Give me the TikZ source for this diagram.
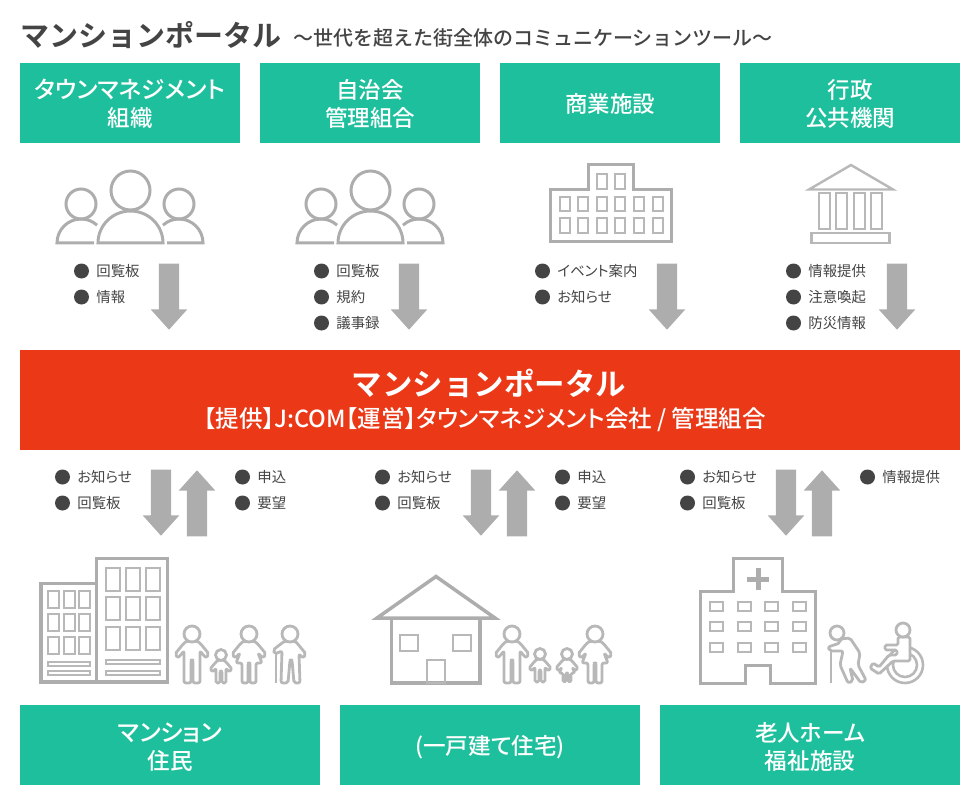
\documentclass[tikz,border=0pt]{standalone}
\usepackage{fontspec}
\setmainfont{Noto Sans CJK JP}[RawFeature=+palt]
\newfontfamily\medfont{Noto Sans CJK JP Medium}[RawFeature=+palt]
\newfontfamily\subfont{Noto Sans CJK JP Medium}
\newfontfamily\titlefont{Noto Sans CJK JP Bold}
\usetikzlibrary{shapes.arrows}

\definecolor{cgreen}{HTML}{1EBF9C}
\definecolor{cred}{HTML}{EB3817}
\definecolor{cdark}{HTML}{444444}
\definecolor{cicon}{HTML}{ADADAD}
\definecolor{cthin}{HTML}{B8B8B8}

\tikzset{
  greenbox/.style={fill=cgreen,minimum height=80pt,inner sep=0pt},
  boxtext/.style={text=white,inner sep=0pt,align=center,yshift=-.5pt,font=\fontsize{22.5}{28}\selectfont\medfont},
  garrow/.style={single arrow,fill=cicon,anchor=tip,minimum width=36pt,minimum height=66pt,inner xsep=0pt,inner ysep=10pt,single arrow head extend=8pt,single arrow tip angle=84},
  dotitem/.style={circle,fill=cdark,minimum size=15pt,inner sep=0pt,label={[text=cdark,font=\fontsize{14.4}{14}\selectfont,inner sep=0pt,label distance=7pt]right:#1}},
  thick line/.style={draw=cicon,line width=3.5pt,line join=miter},
  thin line/.style={draw=cthin,line width=2pt},
  figline/.style={draw=cthin,line width=2.8pt,line join=round,fill=white},
  people/.pic={
    \draw[draw=cicon,line width=3pt] (13,39) -- (-24,39) arc[start angle=180,end angle=312,radius=24];
    \draw[draw=cicon,line width=3pt] (86,39) -- (122,39) arc[start angle=0,end angle=-132,radius=24];
    \draw[draw=cicon,line width=3pt] (17,39) arc[start angle=180,end angle=360,x radius=32.5,y radius=32] -- cycle;
    \draw[draw=cicon,line width=3pt] (0,0) circle (15) (49.5,-13.5) circle (19.5) (98,0) circle (15);
  },
  manfig/.pic={
    \draw[figline,rounded corners=2pt] (-5,7) -- (-8,9) -- (-17,20) -- (-14,24) -- (-8,17) -- (-8,49) -- (-1,49) -- (-1,26) -- (1,26) -- (1,49) -- (8,49) -- (8,17) -- (14,24) -- (17,20) -- (8,9) -- (5,7) -- cycle;
    \draw[figline] (0,0) circle (8);
  },
  womanfig/.pic={
    \draw[figline,rounded corners=2pt] (-5,7) -- (-8,9) -- (-17,20) -- (-14,24) -- (-9,19) -- (-13,29) -- (-7,29) -- (-7,49) -- (-1,49) -- (-1,29) -- (1,29) -- (1,49) -- (7,49) -- (7,29) -- (13,29) -- (9,19) -- (14,24) -- (17,20) -- (8,9) -- (5,7) -- cycle;
    \draw[figline] (0,0) circle (8);
  },
  oldmanfig/.pic={
    \draw[draw=cthin,line width=2.6pt] (-14,18) -- (-14,49);
    \draw[figline,rounded corners=2pt] (-5,7) -- (-8,9) -- (-17,16) -- (-15,20) -- (-8,17) -- (-9,49) -- (-2,49) -- (0,26) -- (2,26) -- (4,49) -- (10,49) -- (9,20) -- (13,24) -- (16,20) -- (7,9) -- (5,7) -- cycle;
    \draw[figline] (0,0) circle (8);
  },
  childfig/.pic={
    \draw[figline,rounded corners=1.5pt] (-3,5) -- (-5,7) -- (-11,14) -- (-8,17) -- (-5,13) -- (-5,28) -- (-1,28) -- (-1,16) -- (1,16) -- (1,28) -- (5,28) -- (5,13) -- (8,17) -- (11,14) -- (5,7) -- (3,5) -- cycle;
    \draw[figline] (0,0) circle (5.5);
  },
  girlfig/.pic={
    \draw[figline,rounded corners=1.5pt] (-3,5) -- (-5,7) -- (-11,14) -- (-8,17) -- (-5,13) -- (-8,19) -- (-4,19) -- (-4,28) -- (-1,28) -- (-1,19) -- (1,19) -- (1,28) -- (4,28) -- (4,19) -- (8,19) -- (5,13) -- (8,17) -- (11,14) -- (5,7) -- (3,5) -- cycle;
    \draw[figline] (0,0) circle (5.5);
  },
  elderfig/.pic={
    \draw[draw=cthin,line width=2.6pt] (-6,18) -- (-6,50);
    \draw[figline,rounded corners=2pt] (3,6) -- (13,5) -- (23,20) -- (21,32) -- (29,47) -- (24,50) -- (13,35) -- (16,48) -- (11,50) -- (3,32) -- (6,18) -- (-7,18) -- (-9,14) -- (3,10) -- cycle;
    \draw[figline] (0,0) circle (7);
  },
  wheelfig/.pic={
    \draw[draw=cthin,line width=2.6pt] (2,35) circle (18) (2,35) circle (12);
    \draw[figline,rounded corners=1.5pt] (-5,7) -- (-5,15) -- (-18,15) -- (-18,20) -- (-6,20) -- (-6,25) -- (-14,25) -- (-24,37) -- (-30,33) -- (-33,38) -- (-24,44) -- (-10,31) -- (7,31) -- (7,7) -- cycle;
    \draw[figline] (0,0) circle (7);
  }
}

\begin{document}
\begin{tikzpicture}[x=1pt,y=-1pt]
  \useasboundingbox (0,0) rectangle (980,805);
  % title
  \node[anchor=west,inner sep=0pt,text=cdark,font=\fontsize{29}{29}\selectfont\titlefont] (title) at (20,35) {マンションポータル};
  \node[anchor=west,inner sep=0pt,text=cdark,font=\fontsize{20}{20}\selectfont\subfont] (subtitle) at (293,38) {〜世代を超えた街全体のコミュニケーションツール〜};

  % upper boxes
  \node[greenbox,minimum width=220pt] (town) at (130,103) {};
  \node[boxtext] (towntext) at (town) {{\fontsize{23.7}{28}\selectfont タウンマネジメント}\\組織};
  \node[greenbox,minimum width=220pt] (jichi) at (370,103) {};
  \node[boxtext] (jichitext) at (jichi) {自治会\\管理組合};
  \node[greenbox,minimum width=220pt] (shop) at (610,103) {};
  \node[boxtext] (shoptext) at (shop) {商業施設};
  \node[greenbox,minimum width=220pt] (gov) at (850,103) {};
  \node[boxtext] (govtext) at (gov) {行政\\公共機関};

  % upper icons
  \pic at (81,204) {people};
  \pic at (321,204) {people};
  \draw[thick line,line width=3pt] (550,242) -- (550,189.5) -- (588,189.5) -- (588,164.5) -- (633,164.5) -- (633,189.5) -- (671,189.5) -- (671,242) -- cycle;
  \foreach \x in {0,...,5} {
    \draw[thin line] (559.5+18.6*\x,197) rectangle +(10,14.5);
    \draw[thin line] (559.5+18.6*\x,218.5) rectangle +(10,14.5);
  }
  \draw[thin line] (597,174.5) rectangle +(9.5,15);
  \draw[thin line] (615,174.5) rectangle +(9.5,15);
  \draw[thin line,line width=2.4pt] (851,165) -- (893,189.5) -- (809,189.5) -- cycle;
  \foreach \x in {819,836,854,871} \draw[thin line,line width=2.4pt] (\x,193) rectangle +(11,36);
  \draw[thin line,line width=2.4pt] (811.5,233) rectangle (889.5,243);

  % upper lists
  \foreach \n/\x/\y/\t in {a1/81.5/271/回覧板,a2/81.5/297/情報,
      b1/321.5/271/回覧板,b2/321.5/297/規約,b3/321.5/323/議事録,
      c1/542.5/271/イベント案内,c2/542.5/297/お知らせ,
      d1/793.5/271/情報提供,d2/793.5/297/注意喚起,d3/793.5/323/防災情報}
    \node[dotitem=\t] (\n) at (\x,\y) {};
  \foreach \n/\x in {a/169,b/409,c/667,d/897}
    \node[garrow,rotate=-90] (arrow\n) at (\x,330) {};

  % portal
  \node[fill=cred,minimum width=940pt,minimum height=100pt,inner sep=0pt] (portal) at (490,400) {};
  \node[text=white,inner sep=0pt,font=\fontsize{30.5}{31}\selectfont\titlefont] (portaltitle) at (489,383) {マンションポータル};
  \node[text=white,inner sep=0pt,font=\fontsize{23.5}{24}\selectfont\medfont] (portalsub) at (485,420) {【提供】J:COM【運営】タウンマネジメント会社 / 管理組合};

  % lower lists
  \foreach \n/\x/\y/\t in {e1/62.5/477/お知らせ,e2/62.5/503/回覧板,e3/242.5/477/申込,e4/242.5/503/要望,
      f1/382.5/477/お知らせ,f2/382.5/503/回覧板,f3/562.5/477/申込,f4/562.5/503/要望,
      g1/687.5/477/お知らせ,g2/687.5/503/回覧板,g3/867.5/477/情報提供}
    \node[dotitem=\t] (\n) at (\x,\y) {};
  \foreach \n/\x in {e/161,f/481,g/786}
    \node[garrow,rotate=-90] (down\n) at (\x,536) {};
  \foreach \n/\x in {e/197,f/517,g/822}
    \node[garrow,rotate=90] (up\n) at (\x,470) {};

  % apartment
  \draw[thick line] (96,682) -- (41,682) -- (41,583.5) -- (96,583.5);
  \draw[thick line] (96.5,682) rectangle (167.5,558.5);
  \foreach \x in {48,64,79} \foreach \y in {591,614,637}
    \draw[thin line] (\x,\y) rectangle +(10.5,17);
  \foreach \y in {662,671} \draw[thin line] (48,\y) rectangle +(41.5,3.5);
  \foreach \x in {106,126,146} \foreach \y in {568,597,627}
    \draw[thin line] (\x,\y) rectangle +(14,23);
  \foreach \y in {660,671} \draw[thin line] (106,\y) rectangle +(54,4);
  \pic at (192,634) {manfig};
  \pic at (221,655) {childfig};
  \pic at (249,634) {womanfig};
  \pic at (290,634) {oldmanfig};

  % house
  \draw[thick line] (391.5,619) -- (391.5,683) -- (480,683) -- (480,619);
  \draw[thick line] (436,576.5) -- (495,618) -- (377,618) -- cycle;
  \draw[thin line] (400,635) rectangle +(18,16);
  \draw[thin line] (453,635) rectangle +(18,16);
  \draw[thin line] (426.5,660) rectangle (445,683);
  \pic at (512,634) {manfig};
  \pic at (540,654) {childfig};
  \pic at (567,654) {girlfig};
  \pic at (595,634) {womanfig};

  % hospital
  \draw[thick line,line width=3pt] (745.5,683) -- (745.5,665) -- (770.5,665) -- (770.5,683) -- (815,683) -- (815,591) -- (782.5,591) -- (782.5,558) -- (733.5,558) -- (733.5,591) -- (700,591) -- (700,683) -- cycle;
  \draw[draw=cicon,line width=5pt] (747,579) -- (769,579) (758,568) -- (758,590);
  \foreach \x in {710,737.5,765,792.5} \foreach \y in {602,622,642.5}
    \draw[thin line] (\x,\y) rectangle +(13,9);
  \pic at (837,633) {elderfig};
  \pic at (903,630) {wheelfig};

  % lower boxes
  \node[greenbox,minimum width=300pt] (mansion) at (170,745) {};
  \node[boxtext,yshift=-1.5pt,font=\fontsize{22.6}{28}\selectfont\medfont] (mansiontext) at (mansion) {{\fontsize{24}{28}\selectfont マンション}\\住民};
  \node[greenbox,minimum width=300pt] (house) at (490,745) {};
  \node[boxtext,yshift=-1.5pt,font=\fontsize{22.6}{28}\selectfont\medfont] (housetext) at (house) {(一戸建て住宅)};
  \node[greenbox,minimum width=300pt] (care) at (810,745) {};
  \node[boxtext,yshift=-1.5pt,font=\fontsize{22.6}{28}\selectfont\medfont] (caretext) at (care) {老人ホーム\\福祉施設};
\end{tikzpicture}
\end{document}
